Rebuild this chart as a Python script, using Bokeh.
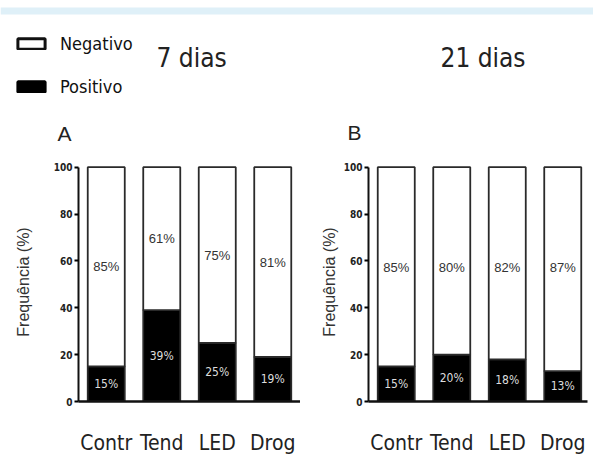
from bokeh.plotting import figure
from bokeh.layouts import column, row
from bokeh.models import Range1d, FixedTicker, Label, Legend, LegendItem, ColumnDataSource, BoxAnnotation
from bokeh.core.properties import value
from bokeh.embed import file_html
from bokeh.resources import INLINE

# ---- data ----
categories = ["Contr", "Tend", "LED", "Drog"]
pos_7 = [15, 39, 25, 19]
neg_7 = [85, 61, 75, 81]
pos_21 = [15, 20, 18, 13]
neg_21 = [85, 80, 82, 87]
y_ticks = [0, 20, 40, 60, 80, 100]
legend_labels = ["Negativo", "Positivo"]
titles = ["7 dias", "21 dias"]
panel_letters = ["A", "B"]
y_label = "Frequência (%)"

NARROW = "DejaVu Sans Condensed"
SANS = "Liberation Sans"


def make_panel(pos, neg, width, min_left, x_end, ylab_standoff, axis_end, const_neg_y=None):
    xs = [i + 0.5 for i in range(len(categories))]
    neg_y = [p + n / 2 for p, n in zip(pos, neg)] if const_neg_y is None else [const_neg_y] * len(pos)
    src = ColumnDataSource(dict(
        x=xs, pos=pos, neg=neg,
        pos_lbl=[f"{v}%" for v in pos], neg_lbl=[f"{v}%" for v in neg],
        pos_y=[v / 2 for v in pos], neg_y=neg_y,
    ))
    p = figure(width=width, height=302, output_backend="svg", toolbar_location=None,
               x_range=Range1d(0, x_end), y_range=Range1d(0, 102),
               min_border_left=min_left, min_border_right=0, min_border_top=7,
               min_border_bottom=49, outline_line_color=None)
    p.grid.visible = False
    p.vbar_stack(["pos", "neg"], x="x", width=0.667, source=src,
                 fill_color=["#000000", "#ffffff"], line_color="#2a2a2a",
                 line_width=1.8)
    p.text(x="x", y="neg_y", text="neg_lbl", source=src, text_align="center",
           text_baseline="middle", text_font_size="13px", text_color="#333333",
           text_font=value(SANS))
    p.text(x="x", y="pos_y", text="pos_lbl", source=src, text_align="center",
           text_baseline="middle", text_font_size="12px", text_color="#dddddd",
           text_font=value(NARROW))

    xa = p.xaxis[0]
    xa.ticker = FixedTicker(ticks=xs)
    xa.major_label_overrides = {x: c for x, c in zip(xs, categories)}
    xa.bounds = (0, axis_end)
    xa.axis_line_width = 2.5
    xa.axis_line_color = "#111111"
    xa.major_tick_line_color = None
    xa.minor_tick_line_color = None
    xa.major_label_standoff = 23
    xa.major_label_text_font = NARROW
    xa.major_label_text_font_size = "21px"
    xa.major_label_text_color = "#222222"

    ya = p.yaxis[0]
    ya.ticker = FixedTicker(ticks=y_ticks)
    ya.bounds = (0, 100)
    ya.axis_line_width = 2
    ya.axis_line_color = "#111111"
    ya.major_tick_out = 4
    ya.major_tick_in = 0
    ya.major_tick_line_width = 2
    ya.minor_tick_line_color = None
    ya.major_label_standoff = 2
    ya.major_label_text_font = NARROW
    ya.major_label_text_font_size = "10px"
    ya.major_label_text_font_style = "bold"
    ya.major_label_text_color = "#222222"
    ya.axis_label = y_label
    ya.axis_label_standoff = ylab_standoff
    ya.axis_label_text_font = SANS
    ya.axis_label_text_font_size = "16px"
    ya.axis_label_text_font_style = "normal"
    ya.axis_label_text_color = "#333333"
    return p


pA = make_panel(pos_7, neg_7, 300, 78, 4.0, 19, 4.0)
pB = make_panel(pos_21, neg_21, 293, 68, 225 / 55.5, 3, 3.95, const_neg_y=57)

# ---- header (band, legend, titles, panel letters) ----
hdr = figure(width=593, height=155, output_backend="svg", toolbar_location=None,
             x_range=Range1d(0, 593), y_range=Range1d(0, 155),
             x_axis_type=None, y_axis_type=None, min_border=0, outline_line_color=None)
hdr.grid.visible = False
hdr.add_layout(BoxAnnotation(bottom=141, top=148, fill_color="#dff0f8", fill_alpha=1,
                             line_color=None))
r_neg = hdr.vbar(x=[0], top=[0], bottom=[0], width=0, fill_color="#ffffff",
                 line_color="#111111", line_width=3)
r_pos = hdr.vbar(x=[0], top=[0], bottom=[0], width=0, fill_color="#000000",
                 line_color="#000000", line_width=3)
legend = Legend(items=[LegendItem(label=legend_labels[0], renderers=[r_neg]),
                       LegendItem(label=legend_labels[1], renderers=[r_pos])],
                location=(14, 58), orientation="vertical",
                glyph_width=34, glyph_height=13, label_standoff=12, spacing=22,
                padding=0, margin=0, border_line_color=None, background_fill_alpha=0,
                label_text_font=NARROW, label_text_font_size="18px",
                label_text_color="#111111")
hdr.add_layout(legend, "center")
hdr.add_layout(Label(x=156, y=98, text=titles[0], text_font=NARROW, text_font_size="26px",
                     text_color="#222222", text_baseline="middle"))
hdr.add_layout(Label(x=440, y=98, text=titles[1], text_font=NARROW, text_font_size="26px",
                     text_color="#222222", text_baseline="middle"))
hdr.add_layout(Label(x=57, y=22, text=panel_letters[0], text_font=SANS, text_font_size="21px",
                     text_color="#222222", text_baseline="middle"))
hdr.add_layout(Label(x=347, y=23, text=panel_letters[1], text_font=SANS, text_font_size="21px",
                     text_color="#222222", text_baseline="middle"))

layout = column(hdr, row(pA, pB, spacing=0), spacing=0)
open("out.html", "w").write(file_html(layout, INLINE))
